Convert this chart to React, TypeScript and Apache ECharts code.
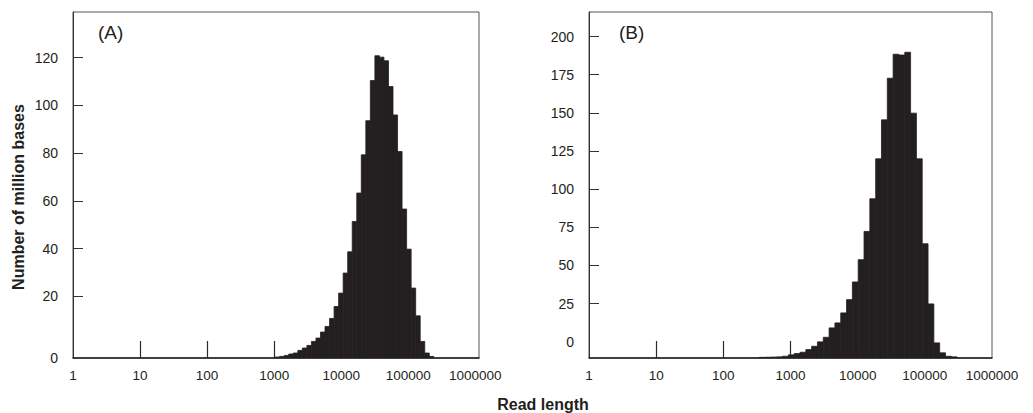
import React, { useEffect, useRef } from "react";
import * as echarts from "echarts";

// ---------- data ----------
const xLabelValues = [1, 10, 100, 1000, 10000, 100000, 1000000];
const xTickValues = [10, 100, 1000, 10000, 100000];

// Panel A: histogram bin edges (read length) and heights (million bases)
const binEdgesA = [
  1035, 1209, 1413, 1651, 1929, 2254, 2634, 3078, 3596, 4202, 4909, 5736,
  6703, 7832, 9150, 10691, 12492, 14597, 17055, 19928, 23281, 27204, 31781,
  37136, 43392, 50699, 59239, 69214, 80872, 94495, 110408, 129006, 150733,
  176118, 205780, 240436,
];
const valuesA = [
  -5.36, -5.1, -4.69, -4.1, -3.68, -2.59, -1.59, -0.5, 1.17, 2.59, 5.1, 7.45,
  10.8, 15.8, 21.4, 29.8, 38.7, 51.4, 63.3, 79.3, 93.6, 110.4, 120.8, 120.2,
  118.7, 107.9, 96.0, 80.7, 56.6, 39.8, 23.5, 11.9, 1.17, -3.68, -5.1,
];
const yLabelsA = [0, 20, 40, 60, 80, 100, 120];

// Panel B
const binEdgesB = [
  343, 419, 511, 624, 761, 929, 1135, 1385, 1691, 2064, 2520, 3076, 3755,
  4584, 5596, 6832, 8340, 10181, 12428, 15172, 18535, 22612, 27610, 33720,
  41170, 50270, 61380, 74950, 91450, 111640, 136290, 166370, 203100, 247960,
  302700,
];
const valuesB = [
  -10.3, -10.2, -10.1, -9.95, -9.56, -8.64, -7.79, -6.94, -5.17, -3.01, -0.13,
  2.88, 9.03, 12.3, 18.85, 27.56, 39.14, 53.74, 72.27, 93.67, 119.85, 145.4,
  172.7, 188.4, 187.9, 189.7, 149.8, 119.85, 64.2, 24.74, -0.79, -7.33, -9.56,
  -9.95,
];
const yLabelsB = [0, 25, 50, 75, 100, 125, 150, 175, 200];

const panelTitles = ["(A)", "(B)"];
const yAxisTitle = "Number of million bases";
const xAxisTitle = "Read length";

// ---------- styles ----------
const FONT = "'Liberation Sans', Arial, Helvetica, sans-serif";
const INK = "#231f20";
const yMinA = -5.77;
const yMaxA = 139.1;
const yMinB = -10.7;
const yMaxB = 216.1;

function toBins(edges: number[], values: number[]) {
  return values.map((v, i) => [edges[i], edges[i + 1], v]);
}

function renderHist(yMin: number) {
  return (params: any, api: any) => {
    const x0 = api.value(0);
    const x1 = api.value(1);
    const v = api.value(2);
    const top = api.coord([x0, v]);
    const bot = api.coord([x1, yMin]);
    return {
      type: "rect",
      shape: {
        x: top[0],
        y: top[1],
        width: bot[0] - top[0],
        height: bot[1] - top[1],
      },
      style: { fill: INK, stroke: INK, lineWidth: 0.8 },
    };
  };
}

function xAxisCfg(gridIndex: number, max: number) {
  return {
    type: "log",
    logBase: 10,
    gridIndex,
    min: 1,
    max,
    axisLine: {
      show: true,
      onZero: false,
      lineStyle: { color: "#1e1e1e", width: 1.5 },
    },
    axisTick: {
      show: true,
      inside: true,
      length: 17,
      customValues: xTickValues,
      lineStyle: { color: "#2a2a2a", width: 1.2 },
    },
    axisLabel: {
      show: true,
      customValues: xLabelValues,
      formatter: (v: number) => String(Math.round(v)),
      margin: 10,
      color: INK,
      fontFamily: FONT,
      fontSize: 13.5,
    },
    splitLine: { show: false },
    minorTick: { show: false },
  };
}

function yAxisCfg(
  gridIndex: number,
  min: number,
  max: number,
  labelValues: number[],
  tickValues: number[],
  formatter: (v: number) => string
) {
  return {
    type: "value",
    gridIndex,
    min,
    max,
    axisLine: { show: true, onZero: false, lineStyle: { color: "#333", width: 1 } },
    axisTick: {
      show: true,
      inside: true,
      length: 10,
      customValues: tickValues,
      lineStyle: { color: "#333", width: 1 },
    },
    axisLabel: {
      show: true,
      customValues: labelValues,
      formatter,
      margin: 15,
      color: INK,
      fontFamily: FONT,
      fontSize: 14,
    },
    splitLine: { show: false },
  };
}

export default function App() {
  const ref = useRef<HTMLDivElement>(null);

  useEffect(() => {
    if (!ref.current) return;
    const chart = echarts.init(ref.current, undefined, { renderer: "svg" });

    // in panel A the "0" label sits on the axis line
    const labelPosA = yLabelsA.map((v) => (v === 0 ? yMinA : v));

    chart.setOption({
      animation: false,
      backgroundColor: "#ffffff",
      grid: [
        {
          left: 73,
          top: 12,
          width: 406,
          height: 346,
          show: true,
          borderColor: "#555",
          borderWidth: 1,
          backgroundColor: "transparent",
        },
        {
          left: 589,
          top: 12,
          width: 403,
          height: 346,
          show: true,
          borderColor: "#555",
          borderWidth: 1,
          backgroundColor: "transparent",
        },
      ],
      xAxis: [xAxisCfg(0, 1135000), xAxisCfg(1, 1000000)],
      yAxis: [
        yAxisCfg(
          0,
          yMinA,
          yMaxA,
          labelPosA,
          yLabelsA.filter((v) => v !== 0),
          (v: number) => (v <= 0 ? "0" : String(v))
        ),
        yAxisCfg(
          1,
          yMinB,
          yMaxB,
          yLabelsB,
          yLabelsB.filter((v) => v !== 0),
          (v: number) => String(v)
        ),
      ],
      series: [
        {
          type: "custom",
          xAxisIndex: 0,
          yAxisIndex: 0,
          renderItem: renderHist(yMinA),
          encode: { x: [0, 1], y: 2 },
          data: toBins(binEdgesA, valuesA),
          clip: true,
        },
        {
          type: "custom",
          xAxisIndex: 1,
          yAxisIndex: 1,
          renderItem: renderHist(yMinB),
          encode: { x: [0, 1], y: 2 },
          data: toBins(binEdgesB, valuesB),
          clip: true,
        },
      ],
      graphic: [
        {
          type: "text",
          x: 98,
          y: 32,
          style: {
            text: panelTitles[0],
            fontFamily: FONT,
            fontSize: 19,
            fill: INK,
            align: "left",
            verticalAlign: "middle",
          },
        },
        {
          type: "text",
          x: 619,
          y: 32,
          style: {
            text: panelTitles[1],
            fontFamily: FONT,
            fontSize: 19,
            fill: INK,
            align: "left",
            verticalAlign: "middle",
          },
        },
        {
          type: "text",
          x: 18,
          y: 197,
          rotation: Math.PI / 2,
          style: {
            text: yAxisTitle,
            fontFamily: FONT,
            fontSize: 16,
            fontWeight: "bold",
            fill: INK,
            align: "center",
            verticalAlign: "middle",
          },
        },
        {
          type: "text",
          x: 543,
          y: 404,
          style: {
            text: xAxisTitle,
            fontFamily: FONT,
            fontSize: 16,
            fontWeight: "bold",
            fill: INK,
            align: "center",
            verticalAlign: "middle",
          },
        },
      ],
    });

    return () => chart.dispose();
  }, []);

  return (
    <div
      ref={ref}
      style={{
        position: "fixed",
        left: 0,
        top: 0,
        width: 1033,
        height: 413,
        background: "#fff",
      }}
    />
  );
}
